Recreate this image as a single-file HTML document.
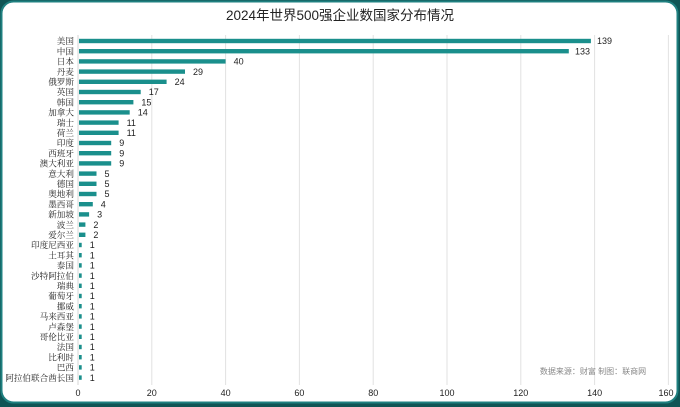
<!DOCTYPE html>
<html><head><meta charset="utf-8"><style>
html,body{margin:0;padding:0;background:#0f5555;}
svg{display:block}
.l{font-family:'Liberation Serif','Noto Serif CJK SC',serif;font-size:8.6px;fill:#222;text-anchor:end}
.v{font-family:'Liberation Sans',sans-serif;font-size:9px;fill:#222}
.b{fill:#1a8f8c}
</style></head><body>
<svg width="680" height="407" xmlns="http://www.w3.org/2000/svg">
<rect x="0" y="0" width="680" height="407" fill="#0f5555"/>
<rect x="1.5" y="1.5" width="676" height="401" rx="12" fill="#fff" stroke="#1f8080" stroke-width="2"/>
<text x="340" y="20" text-anchor="middle" font-family="'Liberation Sans','Noto Sans CJK SC',sans-serif" font-size="13.5" fill="#222">2024年世界500强企业数国家分布情况</text>
<g stroke="#e2e2e2" stroke-width="1">
<line x1="151.8" y1="35" x2="151.8" y2="385"/><line x1="225.6" y1="35" x2="225.6" y2="385"/><line x1="299.4" y1="35" x2="299.4" y2="385"/><line x1="373.2" y1="35" x2="373.2" y2="385"/><line x1="447" y1="35" x2="447" y2="385"/><line x1="520.8" y1="35" x2="520.8" y2="385"/><line x1="594.6" y1="35" x2="594.6" y2="385"/><line x1="668.4" y1="35" x2="668.4" y2="385"/>
</g>
<line x1="78" y1="35" x2="78" y2="385" stroke="#d5d5d5"/>
<g font-family="'Liberation Sans',sans-serif" font-size="9" fill="#222" text-anchor="middle">
<text x="78" y="396">0</text><text x="151.8" y="396">20</text><text x="225.6" y="396">40</text><text x="299.4" y="396">60</text><text x="373.2" y="396">80</text><text x="447" y="396">100</text><text x="520.8" y="396">120</text><text x="594.6" y="396">140</text><text x="666" y="396">160</text>
</g>
<text x="593" y="374" text-anchor="middle" font-family="'Liberation Sans','Noto Sans CJK SC',sans-serif" font-size="8" fill="#888">数据来源：财富  制图：联商网</text>

<rect class="b" x="79" y="38.8" width="511.9" height="4.4"/><text class="l" x="74" y="44.2">美国</text><text class="v" x="597" y="44.2">139</text>
<rect class="b" x="79" y="49" width="489.8" height="4.4"/><text class="l" x="74" y="54.4">中国</text><text class="v" x="575" y="54.4">133</text>
<rect class="b" x="79" y="59.2" width="146.6" height="4.4"/><text class="l" x="74" y="64.6">日本</text><text class="v" x="233.6" y="64.6">40</text>
<rect class="b" x="79" y="69.4" width="106" height="4.4"/><text class="l" x="74" y="74.8">丹麦</text><text class="v" x="193" y="74.8">29</text>
<rect class="b" x="79" y="79.6" width="87.6" height="4.4"/><text class="l" x="74" y="85">俄罗斯</text><text class="v" x="174.6" y="85">24</text>
<rect class="b" x="79" y="89.8" width="61.7" height="4.4"/><text class="l" x="74" y="95.2">英国</text><text class="v" x="148.7" y="95.2">17</text>
<rect class="b" x="79" y="100" width="54.4" height="4.4"/><text class="l" x="74" y="105.4">韩国</text><text class="v" x="141.4" y="105.4">15</text>
<rect class="b" x="79" y="110.2" width="50.7" height="4.4"/><text class="l" x="74" y="115.6">加拿大</text><text class="v" x="137.7" y="115.6">14</text>
<rect class="b" x="79" y="120.4" width="39.6" height="4.4"/><text class="l" x="74" y="125.8">瑞士</text><text class="v" x="126.6" y="125.8">11</text>
<rect class="b" x="79" y="130.6" width="39.6" height="4.4"/><text class="l" x="74" y="136">荷兰</text><text class="v" x="126.6" y="136">11</text>
<rect class="b" x="79" y="140.8" width="32.2" height="4.4"/><text class="l" x="74" y="146.2">印度</text><text class="v" x="119.2" y="146.2">9</text>
<rect class="b" x="79" y="151" width="32.2" height="4.4"/><text class="l" x="74" y="156.4">西班牙</text><text class="v" x="119.2" y="156.4">9</text>
<rect class="b" x="79" y="161.2" width="32.2" height="4.4"/><text class="l" x="74" y="166.6">澳大利亚</text><text class="v" x="119.2" y="166.6">9</text>
<rect class="b" x="79" y="171.4" width="17.5" height="4.4"/><text class="l" x="74" y="176.8">意大利</text><text class="v" x="104.5" y="176.8">5</text>
<rect class="b" x="79" y="181.6" width="17.5" height="4.4"/><text class="l" x="74" y="187">德国</text><text class="v" x="104.5" y="187">5</text>
<rect class="b" x="79" y="191.8" width="17.5" height="4.4"/><text class="l" x="74" y="197.2">奥地利</text><text class="v" x="104.5" y="197.2">5</text>
<rect class="b" x="79" y="202" width="13.8" height="4.4"/><text class="l" x="74" y="207.4">墨西哥</text><text class="v" x="100.8" y="207.4">4</text>
<rect class="b" x="79" y="212.2" width="10.1" height="4.4"/><text class="l" x="74" y="217.6">新加坡</text><text class="v" x="97.1" y="217.6">3</text>
<rect class="b" x="79" y="222.4" width="6.4" height="4.4"/><text class="l" x="74" y="227.8">波兰</text><text class="v" x="93.4" y="227.8">2</text>
<rect class="b" x="79" y="232.6" width="6.4" height="4.4"/><text class="l" x="74" y="238">爱尔兰</text><text class="v" x="93.4" y="238">2</text>
<rect class="b" x="79" y="242.8" width="2.7" height="4.4"/><text class="l" x="74" y="248.2">印度尼西亚</text><text class="v" x="89.7" y="248.2">1</text>
<rect class="b" x="79" y="253" width="2.7" height="4.4"/><text class="l" x="74" y="258.4">土耳其</text><text class="v" x="89.7" y="258.4">1</text>
<rect class="b" x="79" y="263.2" width="2.7" height="4.4"/><text class="l" x="74" y="268.6">泰国</text><text class="v" x="89.7" y="268.6">1</text>
<rect class="b" x="79" y="273.4" width="2.7" height="4.4"/><text class="l" x="74" y="278.8">沙特阿拉伯</text><text class="v" x="89.7" y="278.8">1</text>
<rect class="b" x="79" y="283.6" width="2.7" height="4.4"/><text class="l" x="74" y="289">瑞典</text><text class="v" x="89.7" y="289">1</text>
<rect class="b" x="79" y="293.8" width="2.7" height="4.4"/><text class="l" x="74" y="299.2">葡萄牙</text><text class="v" x="89.7" y="299.2">1</text>
<rect class="b" x="79" y="304" width="2.7" height="4.4"/><text class="l" x="74" y="309.4">挪威</text><text class="v" x="89.7" y="309.4">1</text>
<rect class="b" x="79" y="314.2" width="2.7" height="4.4"/><text class="l" x="74" y="319.6">马来西亚</text><text class="v" x="89.7" y="319.6">1</text>
<rect class="b" x="79" y="324.4" width="2.7" height="4.4"/><text class="l" x="74" y="329.8">卢森堡</text><text class="v" x="89.7" y="329.8">1</text>
<rect class="b" x="79" y="334.6" width="2.7" height="4.4"/><text class="l" x="74" y="340">哥伦比亚</text><text class="v" x="89.7" y="340">1</text>
<rect class="b" x="79" y="344.8" width="2.7" height="4.4"/><text class="l" x="74" y="350.2">法国</text><text class="v" x="89.7" y="350.2">1</text>
<rect class="b" x="79" y="355" width="2.7" height="4.4"/><text class="l" x="74" y="360.4">比利时</text><text class="v" x="89.7" y="360.4">1</text>
<rect class="b" x="79" y="365.2" width="2.7" height="4.4"/><text class="l" x="74" y="370.6">巴西</text><text class="v" x="89.7" y="370.6">1</text>
<rect class="b" x="79" y="375.4" width="2.7" height="4.4"/><text class="l" x="74" y="380.8">阿拉伯联合酋长国</text><text class="v" x="89.7" y="380.8">1</text>
</svg>
</body></html>
